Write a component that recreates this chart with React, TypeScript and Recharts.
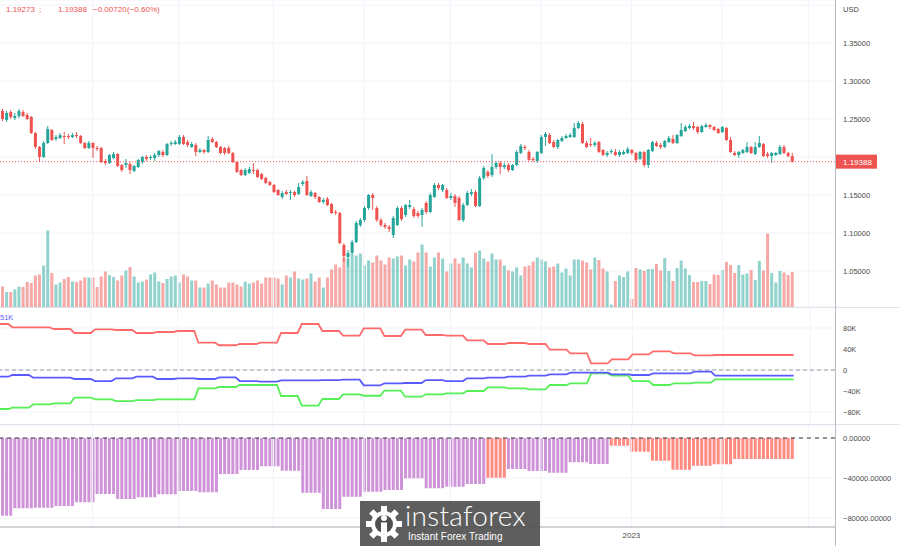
import React from 'react';
import { ComposedChart, Bar, Line, XAxis, YAxis, CartesianGrid, ReferenceLine, Cell } from 'recharts';

// daily candles: open, high, low, close
const candles: number[][] = [
  [1.2605, 1.2631, 1.2474, 1.25], [1.2487, 1.2605, 1.2461, 1.2579], [1.2592, 1.2618, 1.25, 1.2526], [1.2513, 1.2579, 1.2487, 1.2539],
  [1.2539, 1.2631, 1.2513, 1.2605], [1.2592, 1.2618, 1.2526, 1.2539], [1.2553, 1.2579, 1.2487, 1.25], [1.2526, 1.2539, 1.2303, 1.2316],
  [1.2316, 1.2329, 1.2105, 1.2132], [1.2132, 1.2145, 1.1934, 1.2], [1.2, 1.2211, 1.1987, 1.2184], [1.2184, 1.2408, 1.2171, 1.2368],
  [1.2355, 1.2368, 1.2211, 1.2224], [1.2237, 1.2289, 1.2211, 1.2263], [1.225, 1.2316, 1.2237, 1.2289], [1.2276, 1.2329, 1.2171, 1.2263],
  [1.2276, 1.2303, 1.2237, 1.2263], [1.2263, 1.2316, 1.225, 1.2289], [1.2289, 1.2329, 1.225, 1.2276], [1.2276, 1.2289, 1.2171, 1.2184],
  [1.2184, 1.2197, 1.2105, 1.2118], [1.2118, 1.2211, 1.2105, 1.2184], [1.2184, 1.2197, 1.1987, 1.2118], [1.2118, 1.2145, 1.2079, 1.2105],
  [1.2118, 1.2132, 1.1921, 1.1934], [1.1947, 1.1974, 1.1895, 1.1921], [1.1921, 1.2039, 1.1908, 1.2026], [1.1987, 1.2066, 1.1974, 1.2039],
  [1.2039, 1.2053, 1.1868, 1.1882], [1.1895, 1.1908, 1.1803, 1.1829], [1.1895, 1.1974, 1.1855, 1.1921], [1.1908, 1.1934, 1.1776, 1.1829],
  [1.1816, 1.1895, 1.1803, 1.1882], [1.1868, 1.1974, 1.1855, 1.1961], [1.1934, 1.2013, 1.1908, 1.2], [1.2, 1.2026, 1.1947, 1.1974],
  [1.1987, 1.2026, 1.1961, 1.2], [1.1987, 1.2053, 1.1947, 1.2026], [1.2026, 1.2092, 1.2, 1.2079], [1.2066, 1.2092, 1.2, 1.2026],
  [1.2026, 1.2184, 1.2013, 1.2171], [1.2171, 1.2211, 1.2145, 1.2184], [1.2171, 1.2224, 1.2158, 1.2197], [1.2171, 1.2289, 1.2158, 1.2263],
  [1.2263, 1.2289, 1.2158, 1.2171], [1.2197, 1.2224, 1.2132, 1.2158], [1.2132, 1.2197, 1.2118, 1.2171], [1.2158, 1.2184, 1.2013, 1.2066],
  [1.2066, 1.2118, 1.2053, 1.2092], [1.2092, 1.2105, 1.2039, 1.2066], [1.2066, 1.2276, 1.2053, 1.2224], [1.2237, 1.2263, 1.2184, 1.2197],
  [1.2197, 1.2211, 1.2118, 1.2132], [1.2132, 1.2145, 1.2039, 1.2053], [1.2118, 1.2132, 1.2026, 1.2053], [1.2118, 1.2145, 1.2039, 1.2053],
  [1.2053, 1.2066, 1.1921, 1.1934], [1.1934, 1.1947, 1.1789, 1.1803], [1.1829, 1.1842, 1.175, 1.1763], [1.1763, 1.1855, 1.175, 1.1829],
  [1.1789, 1.1868, 1.1776, 1.1842], [1.1829, 1.1921, 1.1776, 1.1816], [1.1829, 1.1842, 1.1724, 1.1737], [1.1776, 1.1789, 1.1697, 1.1711],
  [1.1724, 1.1737, 1.1645, 1.1658], [1.1671, 1.1684, 1.1618, 1.1632], [1.1632, 1.1645, 1.1526, 1.1539], [1.1566, 1.1579, 1.1487, 1.15],
  [1.1474, 1.1553, 1.1447, 1.1526], [1.1539, 1.1566, 1.15, 1.1513], [1.1526, 1.1566, 1.1434, 1.1539], [1.1539, 1.1553, 1.1474, 1.15],
  [1.1513, 1.1658, 1.15, 1.1605], [1.1645, 1.1697, 1.1618, 1.1671], [1.1684, 1.175, 1.1487, 1.15], [1.1487, 1.1566, 1.1474, 1.1539],
  [1.1526, 1.1539, 1.1447, 1.1474], [1.1474, 1.1487, 1.1395, 1.1408], [1.1408, 1.1461, 1.1382, 1.1434], [1.1447, 1.1474, 1.1355, 1.1368],
  [1.1382, 1.1395, 1.125, 1.1263], [1.1276, 1.1303, 1.1237, 1.1263], [1.1263, 1.1276, 1.0855, 1.0868], [1.0842, 1.0868, 1.0618, 1.0697],
  [1.0684, 1.0776, 1.0553, 1.0737], [1.0737, 1.0908, 1.071, 1.0882], [1.0882, 1.1158, 1.0868, 1.1132], [1.1105, 1.1197, 1.1079, 1.1171],
  [1.1171, 1.1355, 1.1145, 1.1329], [1.1329, 1.1513, 1.1303, 1.15], [1.15, 1.1526, 1.1303, 1.1461], [1.1329, 1.1355, 1.1145, 1.1171],
  [1.1171, 1.1197, 1.1079, 1.1105], [1.1105, 1.1132, 1.1053, 1.1079], [1.1079, 1.1105, 1.1013, 1.1053], [1.0974, 1.1224, 1.0934, 1.1197],
  [1.1105, 1.1355, 1.1092, 1.1329], [1.1329, 1.1355, 1.1158, 1.1184], [1.1237, 1.1382, 1.1211, 1.1368], [1.1342, 1.1434, 1.1316, 1.1368],
  [1.1316, 1.1342, 1.1197, 1.1224], [1.1263, 1.1289, 1.1197, 1.1224], [1.1237, 1.1329, 1.1079, 1.1303], [1.1395, 1.1421, 1.125, 1.1276],
  [1.1276, 1.1526, 1.1263, 1.15], [1.1474, 1.1658, 1.1461, 1.1632], [1.1632, 1.1658, 1.1566, 1.1592], [1.1566, 1.1645, 1.1539, 1.1632],
  [1.1566, 1.1592, 1.1447, 1.1461], [1.1461, 1.1526, 1.1434, 1.1487], [1.1487, 1.1513, 1.1342, 1.1395], [1.1461, 1.1487, 1.1158, 1.1171],
  [1.1171, 1.1395, 1.1145, 1.1368], [1.1368, 1.1553, 1.1355, 1.1526], [1.1513, 1.1579, 1.1487, 1.1539], [1.1539, 1.1566, 1.1342, 1.1355],
  [1.1355, 1.175, 1.1342, 1.1724], [1.1724, 1.1882, 1.1697, 1.1855], [1.1803, 1.1829, 1.1724, 1.175], [1.1763, 1.2039, 1.1737, 1.1868],
  [1.1868, 1.1947, 1.1842, 1.1921], [1.1921, 1.1947, 1.1776, 1.1868], [1.1868, 1.1921, 1.1842, 1.1895], [1.1895, 1.1921, 1.1803, 1.1829],
  [1.1829, 1.1908, 1.1816, 1.1895], [1.1895, 1.2092, 1.1882, 1.2066], [1.2053, 1.2171, 1.2039, 1.2145], [1.2132, 1.2158, 1.2092, 1.2118],
  [1.2066, 1.2092, 1.1947, 1.1961], [1.1974, 1.2, 1.1934, 1.1961], [1.1947, 1.2079, 1.1921, 1.2066], [1.2053, 1.2289, 1.2039, 1.2263],
  [1.2263, 1.2329, 1.2145, 1.2303], [1.2289, 1.2316, 1.2171, 1.2184], [1.2197, 1.2224, 1.2118, 1.2132], [1.2132, 1.2237, 1.2105, 1.2224],
  [1.2211, 1.2276, 1.2197, 1.225], [1.225, 1.2303, 1.2237, 1.2276], [1.2263, 1.2316, 1.225, 1.2289], [1.2263, 1.2447, 1.225, 1.2382],
  [1.2382, 1.2474, 1.2368, 1.2447], [1.2434, 1.2461, 1.2171, 1.2184], [1.2184, 1.2211, 1.2118, 1.2132], [1.2171, 1.225, 1.2132, 1.2158],
  [1.2158, 1.2211, 1.2132, 1.2184], [1.2197, 1.2211, 1.2053, 1.2066], [1.2092, 1.2105, 1.2013, 1.2026], [1.2026, 1.2079, 1.2, 1.2053],
  [1.2066, 1.2105, 1.2039, 1.2079], [1.2066, 1.2105, 1.2013, 1.2026], [1.2026, 1.2092, 1.2, 1.2066], [1.2039, 1.2092, 1.2026, 1.2066],
  [1.2053, 1.2132, 1.2039, 1.2105], [1.2092, 1.2105, 1.2026, 1.2053], [1.2053, 1.2066, 1.1921, 1.1961], [1.1974, 1.2079, 1.1961, 1.2066],
  [1.2066, 1.2079, 1.1868, 1.1895], [1.1895, 1.2105, 1.1855, 1.2092], [1.2079, 1.2211, 1.2066, 1.2197], [1.2184, 1.2211, 1.2132, 1.2145],
  [1.2158, 1.2184, 1.2105, 1.2132], [1.2132, 1.2224, 1.2118, 1.2211], [1.2197, 1.2276, 1.2184, 1.225], [1.2237, 1.2289, 1.2171, 1.2184],
  [1.2184, 1.2303, 1.2171, 1.2289], [1.2276, 1.2447, 1.2263, 1.2355], [1.2342, 1.2421, 1.2329, 1.2395], [1.2382, 1.2434, 1.2368, 1.2408],
  [1.2408, 1.2461, 1.2355, 1.2382], [1.2395, 1.2408, 1.2303, 1.2329], [1.2329, 1.2421, 1.2316, 1.2408], [1.2395, 1.2447, 1.2382, 1.2421],
  [1.2421, 1.2434, 1.2368, 1.2395], [1.2395, 1.2408, 1.2342, 1.2355], [1.2368, 1.2382, 1.2303, 1.2316], [1.2329, 1.2408, 1.2316, 1.2395],
  [1.2382, 1.2395, 1.2211, 1.2224], [1.2224, 1.2263, 1.2053, 1.2066], [1.2053, 1.2079, 1.2013, 1.2026], [1.2026, 1.2079, 1.1987, 1.2066],
  [1.2053, 1.2105, 1.2039, 1.2092], [1.2066, 1.2197, 1.2053, 1.2132], [1.2132, 1.2145, 1.2039, 1.2053], [1.2039, 1.2197, 1.2026, 1.2132],
  [1.2132, 1.2276, 1.2118, 1.2184], [1.2171, 1.2184, 1.2, 1.2013], [1.2039, 1.2066, 1.1987, 1.2013], [1.2013, 1.2066, 1.1921, 1.2053],
  [1.2026, 1.2066, 1.2013, 1.2053], [1.2039, 1.2158, 1.2026, 1.2132], [1.2132, 1.2158, 1.2039, 1.2053], [1.2053, 1.2066, 1.2, 1.2011],
  [1.2011, 1.2053, 1.1927, 1.19388],
];

// daily volume
const volumes = [
  20.5, 15, 15, 17.5, 20.5, 20, 25, 24, 31.5, 32.5, 41.5, 76.5, 34, 22.5, 24.5, 28, 30, 25.5, 25, 26.5,
  29.5, 29.5, 29.5, 20, 30.5, 35.5, 32, 30, 26.5, 31.5, 36.5, 40, 30.5, 24.5, 25.5, 27.5, 32.5, 34.5, 25.5, 24,
  28, 30.5, 31.5, 24.5, 32.5, 30.5, 26.5, 26.5, 19.5,
  19.5, 23.5, 26.5, 22.5, 19.5, 19.5, 24.5, 24.5, 22.5, 20.5, 25.5, 23.5, 24.5, 26.5, 23.5, 29.5, 29.5, 29.5, 28.5, 22.5,
  31.5, 29.5, 35.5, 28.5,
  27.5, 28.5, 33.5, 25.5, 29.5, 19.5, 29.5, 37.5, 42.5, 39.5, 49.5, 48.5, 52.5, 51.5, 53.5, 41.5, 46.5, 44.5, 51.5, 46.5,
  42.5, 49.5, 48.5, 50.5, 51.5, 41.5, 47.5, 45.5, 54.5, 62.5, 54.5, 40.5, 49.5, 54.5, 48.5, 35.5, 43.5, 48.5, 43.5, 49.5,
  43.5, 39.5, 54.5, 56.5, 48.5, 45.5, 53.5, 47.5, 47.5, 41.5, 36.5, 35.5, 39.5, 31.5, 40.5, 41.5, 45.5, 49.5, 47.5, 45.5,
  39.5, 40.5, 43.5, 34.5, 38.5, 31.5, 47.5, 47.5, 46.5, 44.5, 37.5, 49.5, 47,
  38.5, 35.5, 2.5, 26, 31.5, 30, 35.5, 8, 39, 37.5, 36, 38, 38, 43, 36.5, 49, 36, 26, 39, 46.5,
  38.5, 32, 25, 25, 26, 26, 23, 32.5, 32, 37, 45, 42, 34, 42, 32.5, 33.5, 37, 27, 46, 36.5,
  73.5, 34, 24.5, 36, 34.5, 32, 35,
];

// weekly COT positions (K contracts)
const cotRed = [87.6, 81.3, 81.3, 78.1, 70.5, 77.5, 76.2, 70.5, 72.4, 74.3, 52.0, 47.1, 49.5, 52.0, 70.5, 87.6, 74.3, 65.3, 79.4, 64.8,
  76.8, 66.7, 65.3, 56.6, 49.5, 51.4, 49.5, 38.7, 31.8, 12.8, 20.4, 29.9, 35.6, 31.8, 28.0, 28.6, 28.6, 28.6, 28.6];
const cotBlue = [-12.8, -9.5, -14.7, -14.7, -17.1, -21.0, -15.8, -12.8, -17.1, -15.8, -17.1, -14.0, -21.0, -22.3, -19.6, -19.6, -19.1, -18.5, -29.1, -25.3,
  -24.8, -19.1, -21.0, -15.8, -14.7, -12.8, -10.9, -8.2, -5.1, -5.1, -8.2, -9.5, -6.3, -6.3, -3.2, -10.9, -10.9, -10.9, -10.9];
const cotGreen = [-74.3, -71.8, -65.3, -63.4, -52.8, -55.8, -59.1, -57.2, -55.8, -55.8, -34.9, -32.4, -28.6, -28.6, -49.5, -68.0, -55.2, -46.3, -49.0, -39.4,
  -50.9, -46.3, -44.4, -40.0, -33.0, -34.9, -36.8, -28.6, -25.3, -6.3, -10.9, -21.0, -28.6, -25.3, -24.2, -17.7, -17.7, -17.7, -17.7];

// weekly net position histogram
const netPosition = [-77700, -70300, -69700, -68000, -64300, -56000, -61000, -59300, -56300, -53000, -54300, -36000, -32000, -28300, -32700,
  -54700, -71000, -58700, -53700, -52000, -40300, -50300, -48700, -46000, -39700, -31000, -33000, -34700, -24300, -26000,
  -7700, -13700, -22700, -31700, -27700, -26300, -21000, -21000, -21000];
const highlightWeeks = [24, 30, 31, 32, 33, 34, 35, 36, 37, 38];

const priceTicks = [1.05, 1.1, 1.15, 1.2, 1.25, 1.3, 1.35, 1.4];
const cotTicks = [80000, 40000, 0, -40000, -80000];
const netTicks = [0, -40000, -80000];
const monthStarts = [22, 43, 66, 88, 109, 131, 153, 175, 196];
const lastPrice = 1.19388;

const SLOTS = 203;
const W = 900;
const AXIS_W = 65;
const FONT = '"Liberation Sans", Arial, sans-serif';
const UP = '#26a69a';
const DOWN = '#ef5350';
const GRID = '#f0f3fa';
const LABEL = '#4a4a4a';

const weekOf = (i: number) => (i < 3 ? 0 : 1 + Math.floor((i - 3) / 5));

const rows = Array.from({ length: SLOTS }, (_, i) => {
  if (i >= candles.length) return { i } as any;
  const [o, h, l, c] = candles[i];
  const w = weekOf(i);
  return {
    i, o, h, l, c,
    range: [l, h],
    vol: volumes[i],
    red: cotRed[w] * 1000,
    blue: cotBlue[w] * 1000,
    green: cotGreen[w] * 1000,
    net: netPosition[w],
    week: w,
  };
});

const tickStyle = { fontSize: 7.5, fill: LABEL, fontFamily: FONT };
const M = { top: 0, right: 0, bottom: 0, left: 0 };

function Candle(props: any) {
  const { x, y, width, height, payload } = props;
  if (!payload || payload.o == null) return null;
  const { o, h, l, c } = payload;
  const top = Math.min(y, y + height);
  const span = Math.abs(height);
  const k = h > l ? span / (h - l) : 0;
  const yOf = (v: number) => top + (h - v) * k;
  const color = c >= o ? UP : DOWN;
  const bodyTop = yOf(Math.max(o, c));
  const bodyBot = yOf(Math.min(o, c));
  const cx = x + width / 2;
  return (
    <g>
      <line x1={cx} x2={cx} y1={top} y2={top + span} stroke={color} strokeWidth={1} />
      <rect x={x} y={bodyTop} width={width} height={Math.max(1, bodyBot - bodyTop)} fill={color} />
    </g>
  );
}

function PriceTag(props: any) {
  const vb = props.viewBox;
  if (!vb) return null;
  const x = vb.x + vb.width;
  return (
    <g>
      <rect x={x + 1} y={vb.y - 7} width={41} height={14} fill={DOWN} />
      <text x={x + 8} y={vb.y + 3} fill="#fff" fontSize={8} fontFamily={FONT}>1.19388</text>
    </g>
  );
}

// the 1.20000 label sits under the last-price tag, so it is left blank
const fmtPrice = (v: number) => (v > 1.39 || Math.abs(v - 1.2) < 0.001 ? '' : v.toFixed(5));
const fmtK = (v: number) => (v === 0 ? '0' : (v < 0 ? '\u2212' : '') + Math.abs(v / 1000) + 'K');
const fmtNet = (v: number) => (v < 0 ? '\u2212' : '') + Math.abs(v).toFixed(5);

function Logo() {
  const teeth = Array.from({ length: 8 }, (_, k) => k * 45);
  return (
    <div style={{ position: 'absolute', left: 360, top: 501, width: 180, height: 45, background: 'rgba(80,80,80,0.92)' }}>
      <svg width={40} height={40} style={{ position: 'absolute', left: 4, top: 3 }} viewBox="0 0 40 40">
        {teeth.map((a) => (
          <rect key={a} x={17} y={2} width={6} height={8} fill="#fff" transform={`rotate(${a} 20 20)`} />
        ))}
        <circle cx={20} cy={20} r={13} fill="#fff" />
        <circle cx={20} cy={20} r={9} fill="#505050" />
        <circle cx={20} cy={14} r={3} fill="#fff" />
        <rect x={17} y={18.5} width={6} height={12} fill="#fff" />
      </svg>
      <div style={{ position: 'absolute', left: 45, top: 2, color: '#fff', fontFamily: 'Lato, "Open Sans", sans-serif', fontWeight: 300, fontSize: 28, letterSpacing: 0.3, lineHeight: '25px' }}>
        instaforex
      </div>
      <div style={{ position: 'absolute', left: 48, top: 30, color: '#fff', fontFamily: FONT, fontSize: 10, lineHeight: '11px' }}>
        Instant Forex Trading
      </div>
    </div>
  );
}

export default function App() {
  return (
    <div style={{ position: 'absolute', left: 0, top: 0, width: W, height: 546, overflow: 'hidden', background: '#fff', fontFamily: FONT }}>
      {/* price + volume */}
      <div style={{ position: 'absolute', left: 0, top: 0 }}>
        <ComposedChart width={W} height={307} data={rows} margin={M}>
          <CartesianGrid yAxisId="price" vertical={false} stroke={GRID} />
          <XAxis dataKey="i" hide />
          <YAxis yAxisId="price" orientation="right" width={AXIS_W} domain={[1.00263, 1.40658]} ticks={priceTicks}
            allowDataOverflow axisLine={false} tickLine={false} tickSize={6} tickMargin={2} tick={tickStyle}
            tickFormatter={fmtPrice} />
          <YAxis yAxisId="vol" hide domain={[0, 307]} />
          {monthStarts.map((m) => (
            <ReferenceLine key={m} x={m} yAxisId="price" stroke={GRID} />
          ))}
          <Bar yAxisId="vol" dataKey="vol" barSize={3} isAnimationActive={false}>
            {rows.map((r) => (
              <Cell key={r.i} fill={r.c >= r.o ? 'rgba(38,166,154,0.5)' : 'rgba(239,83,80,0.5)'} />
            ))}
          </Bar>
        </ComposedChart>
      </div>
      <div style={{ position: 'absolute', left: 0, top: 0 }}>
        <ComposedChart width={W} height={307} data={rows} margin={M}>
          <XAxis dataKey="i" hide />
          <YAxis yAxisId="price" orientation="right" width={AXIS_W} domain={[1.00263, 1.40658]} allowDataOverflow
            axisLine={false} tickLine={false} tick={false} />
          <ReferenceLine yAxisId="price" y={lastPrice} stroke={DOWN} strokeDasharray="1 2" label={<PriceTag />} />
          <Bar yAxisId="price" dataKey="range" barSize={3} shape={<Candle />} isAnimationActive={false} />
        </ComposedChart>
      </div>

      {/* COT lines */}
      <div style={{ position: 'absolute', left: 0, top: 307 }}>
        <ComposedChart width={W} height={118} data={rows} margin={M}>
          <CartesianGrid vertical={false} stroke={GRID} />
          <XAxis dataKey="i" hide />
          <YAxis orientation="right" width={AXIS_W} domain={[-104762, 120000]} ticks={cotTicks} allowDataOverflow
            axisLine={false} tickLine={false} tickSize={6} tickMargin={2} tick={tickStyle} tickFormatter={fmtK} />
          {monthStarts.map((m) => (
            <ReferenceLine key={m} x={m} stroke={GRID} />
          ))}
          <ReferenceLine y={0} stroke="#9598a1" strokeDasharray="4 3" />
          <Line dataKey="red" type="linear" stroke="#ff6b6b" strokeWidth={1.8} dot={false} isAnimationActive={false} />
          <Line dataKey="green" type="linear" stroke="#55f055" strokeWidth={1.8} dot={false} isAnimationActive={false} />
          <Line dataKey="blue" type="linear" stroke="#5a5aff" strokeWidth={1.8} dot={false} isAnimationActive={false} />
        </ComposedChart>
      </div>

      {/* net position histogram + time axis */}
      <div style={{ position: 'absolute', left: 0, top: 425 }}>
        <ComposedChart width={W} height={121} data={rows} margin={M}>
          <CartesianGrid vertical={false} stroke={GRID} />
          <XAxis dataKey="i" ticks={[153]} interval={0} height={19} tickFormatter={() => '2023'}
            axisLine={{ stroke: '#c4c6cc', strokeWidth: 1.5 }} tickLine={false} tickSize={0} tickMargin={5}
            tick={{ fontSize: 8, fill: LABEL, fontFamily: FONT }} />
          <YAxis orientation="right" width={AXIS_W} domain={[-89000, 13000]} ticks={netTicks} allowDataOverflow
            axisLine={false} tickLine={false} tickSize={6} tickMargin={2} tick={tickStyle} tickFormatter={fmtNet} />
          {monthStarts.map((m) => (
            <ReferenceLine key={m} x={m} stroke={GRID} />
          ))}
          <Bar dataKey="net" barSize={3} isAnimationActive={false}>
            {rows.map((r) => (
              <Cell key={r.i} fill={highlightWeeks.includes(r.week) ? '#ff8a80' : '#ce93d8'} />
            ))}
          </Bar>
          <ReferenceLine y={0} stroke="#333" strokeDasharray="4 4" />
        </ComposedChart>
      </div>

      {/* panel borders */}
      <div style={{ position: 'absolute', left: 0, top: 307, width: W, height: 1, background: '#e0e3eb' }} />
      <div style={{ position: 'absolute', left: 0, top: 424, width: W, height: 1, background: '#e0e3eb' }} />
      <div style={{ position: 'absolute', left: 835, top: 0, width: 1, height: 546, background: '#b8bbc2' }} />

      {/* header texts */}
      <div style={{ position: 'absolute', left: 6, top: 5, fontSize: 8, color: DOWN, whiteSpace: 'pre' }}>
        <span>1.19273</span>
        <span style={{ position: 'absolute', left: 33 }}>;</span>
        <span style={{ position: 'absolute', left: 52 }}>1.19388</span>
        <span style={{ position: 'absolute', left: 87 }}>{'\u22120.00720'}</span>
        <span style={{ position: 'absolute', left: 121 }}>{'(\u22120.60%)'}</span>
      </div>
      <div style={{ position: 'absolute', left: 843, top: 5, fontSize: 7.5, color: LABEL }}>USD</div>
      <div style={{ position: 'absolute', left: 0, top: 313, fontSize: 7.5, color: '#5a5aff' }}>51K</div>

      <Logo />
    </div>
  );
}
